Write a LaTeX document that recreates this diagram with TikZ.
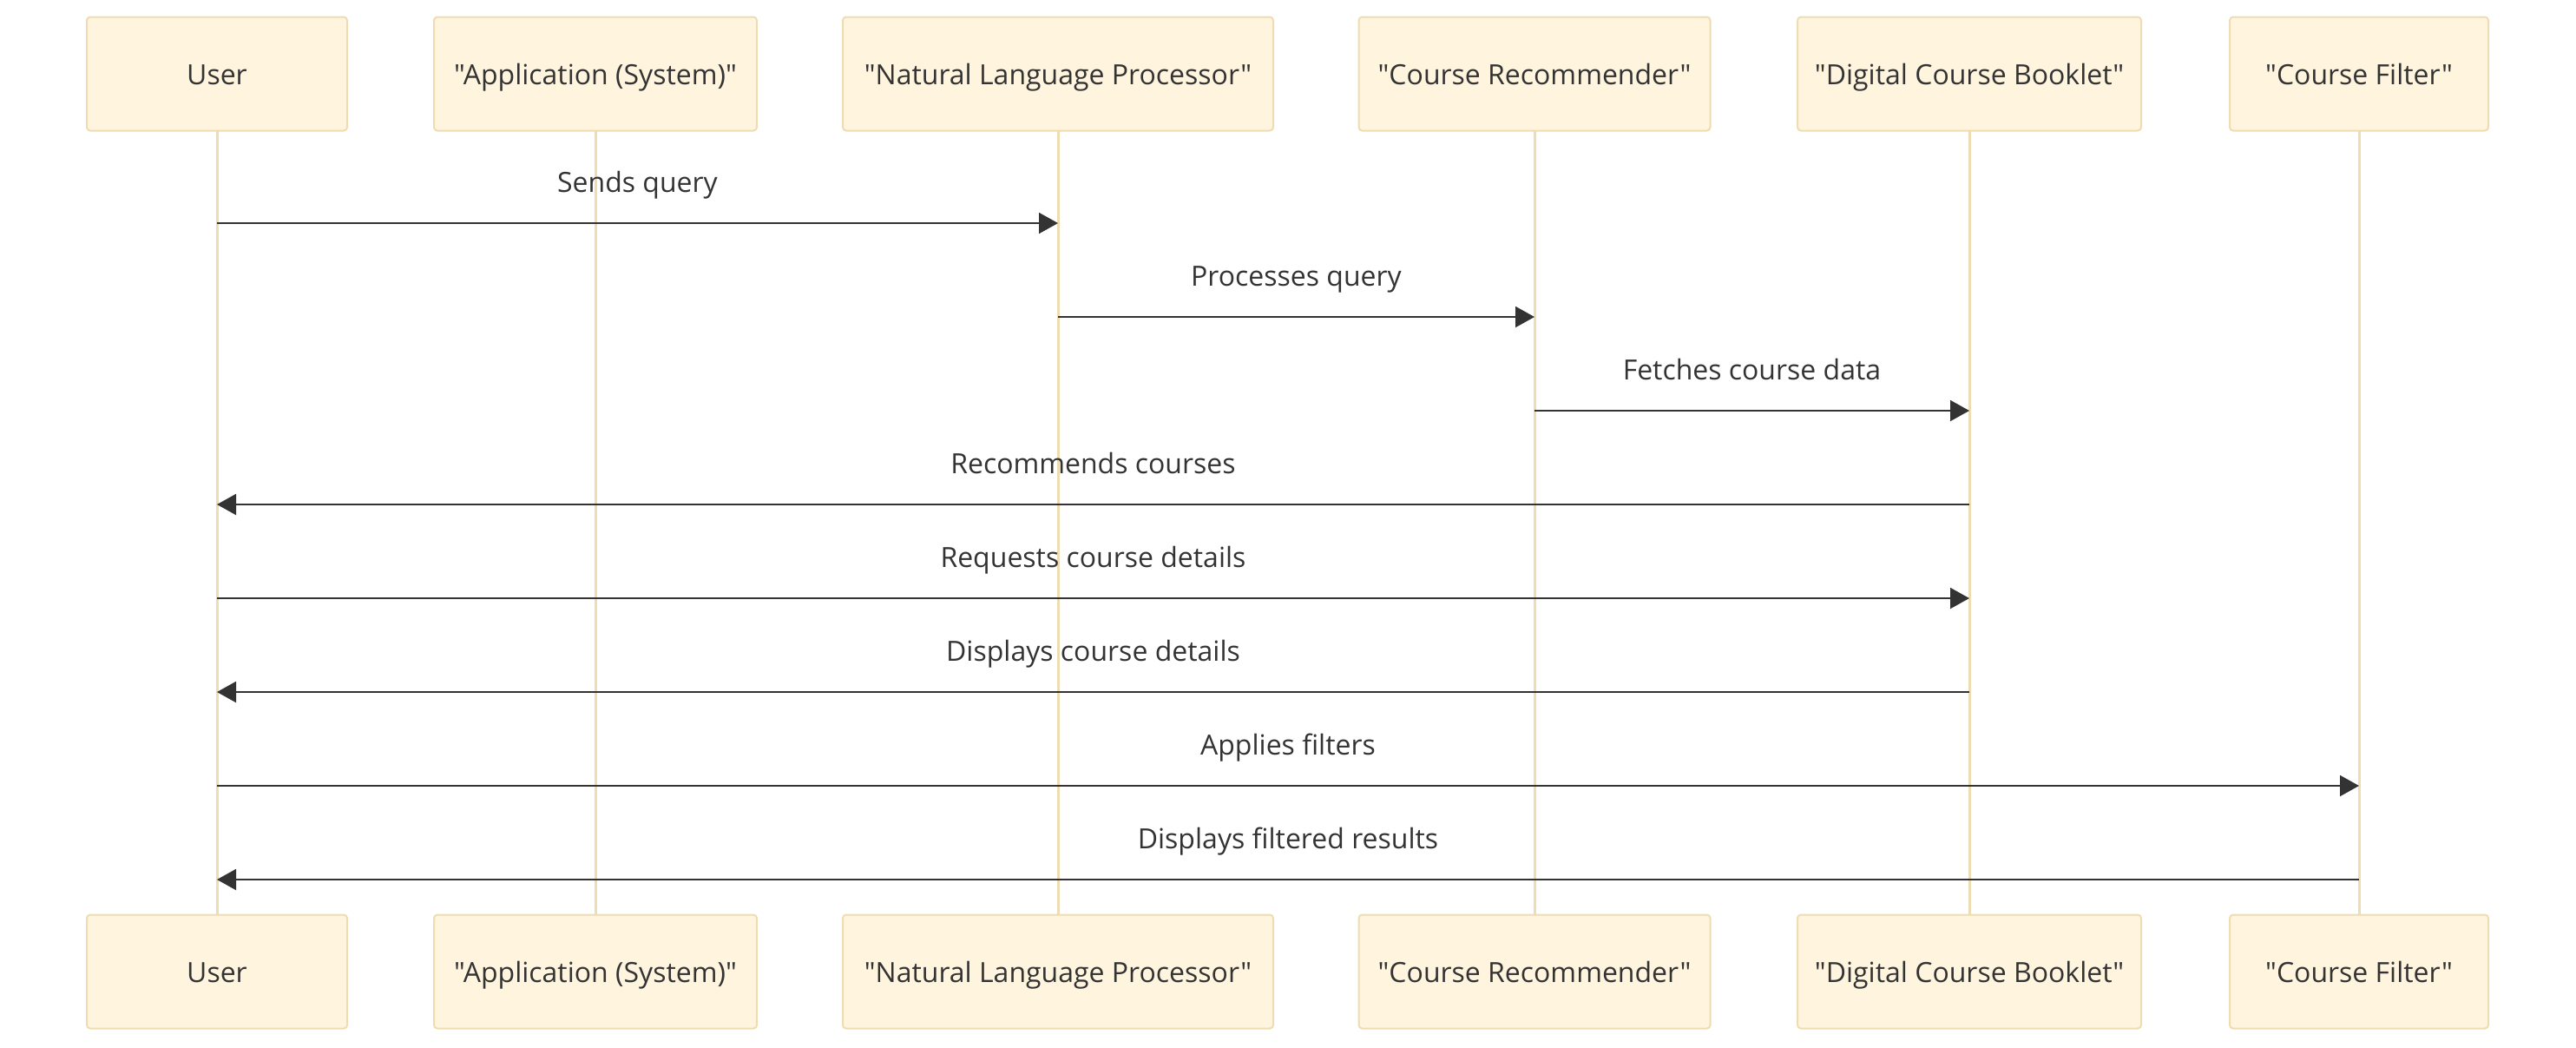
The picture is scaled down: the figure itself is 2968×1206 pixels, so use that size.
\documentclass[tikz,border=0pt]{standalone}
\usepackage{fontspec}
\setmainfont{Open Sans}[Ligatures=TeXOff]
\usetikzlibrary{positioning,arrows.meta}
\definecolor{actorfill}{HTML}{FFF4DD}
\definecolor{actorline}{HTML}{EEDCB3}
\definecolor{ink}{HTML}{333333}

\begin{document}
\begin{tikzpicture}[x=0.5pt,y=-0.5pt,
  actor/.style={draw=actorline, fill=actorfill, line width=1pt, rounded corners=2pt,
    minimum height=65.5pt, inner sep=0pt, text height=14pt, text depth=2pt,
    text=ink, font=\fontsize{16}{19}\selectfont},
  life/.style={draw=actorline, line width=1.5pt},
  msg/.style={draw=ink, line width=1pt, -{Triangle[length=11pt,width=12pt]}},
  lbl/.style={text=ink, text height=14pt, text depth=2pt, font=\fontsize{16}{19}\selectfont}]
  \useasboundingbox (0,0) rectangle (2968,1206);

  \foreach \n/\x/\w/\t in {usr/250/300/User, app/686/372/{"Application (System)"},
      nlp/1219/496/{"Natural Language Processor"}, rec/1768/405/{"Course Recommender"},
      dcb/2269/396/{"Digital Course Booklet"}, flt/2718/298/{"Course Filter"}} {
    \draw[life] (\x,150) -- (\x,1054);
    \node[actor, minimum width=\w*0.5pt] (t\n) at (\x,85) {\t};
    \node[actor, minimum width=\w*0.5pt] (b\n) at (\x,1119) {\t};
  }

  \foreach \i/\a/\b/\t in {1/usr/nlp/Sends query, 2/nlp/rec/Processes query,
      3/rec/dcb/Fetches course data, 4/dcb/usr/Recommends courses,
      5/usr/dcb/Requests course details, 6/dcb/usr/Displays course details,
      7/usr/flt/Applies filters, 8/flt/usr/Displays filtered results} {
    \pgfmathsetmacro\yy{257+108*(\i-1)}
    \coordinate (s\i) at (t\a |- 0,\yy);
    \coordinate (e\i) at (t\b |- 0,\yy);
    \draw[msg] (s\i) -- node[lbl, yshift=24pt] {\t} (e\i);
  }
\end{tikzpicture}
\end{document}
